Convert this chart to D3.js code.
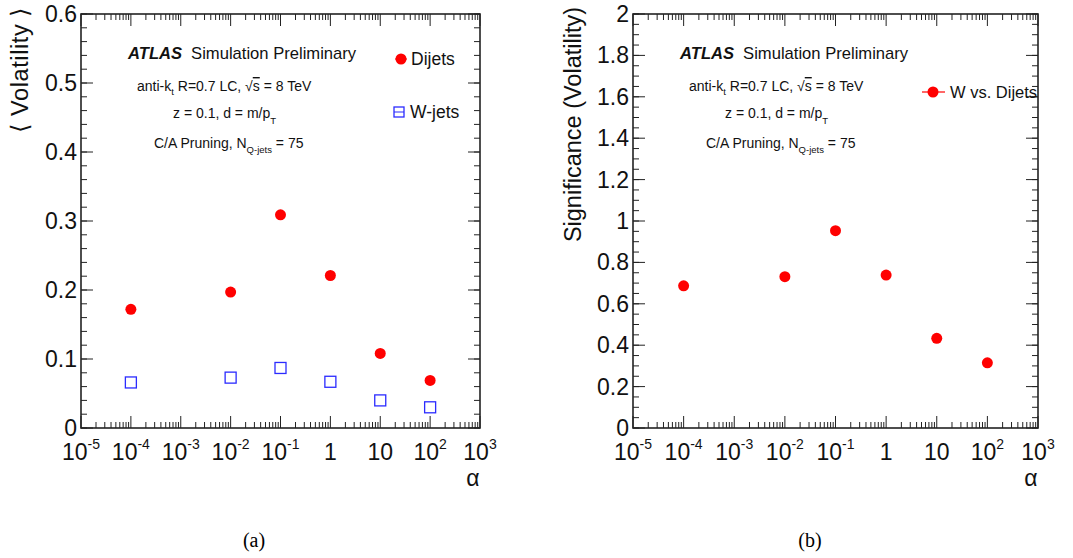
<!DOCTYPE html>
<html>
<head>
<meta charset="utf-8">
<script src="https://cdn.jsdelivr.net/npm/d3@7"></script>
<style>
  html, body { margin: 0; padding: 0; background: #fff; }
  svg { display: block; font-family: "Liberation Sans", Arial, Helvetica, sans-serif; }
</style>
</head>
<body>
<svg id="chart" width="1073" height="558"></svg>
<script>
// ---------------- data ----------------
const alphas = [1e-4, 1e-2, 1e-1, 1, 10, 100];
const dijetsVolatility = [0.172, 0.197, 0.309, 0.221, 0.108, 0.069];
const wjetsVolatility = [0.066, 0.073, 0.087, 0.067, 0.040, 0.030];
const significance = [0.687, 0.731, 0.953, 0.739, 0.433, 0.315];

const xDecades = [-5, -4, -3, -2, -1, 0, 1, 2, 3];
const xTickLabels = [["10", "-5"], ["10", "-4"], ["10", "-3"], ["10", "-2"], ["10", "-1"], ["1", ""], ["10", ""], ["10", "2"], ["10", "3"]];
const leftYTicks = [0, 0.1, 0.2, 0.3, 0.4, 0.5, 0.6];
const leftYTickLabels = ["0", "0.1", "0.2", "0.3", "0.4", "0.5", "0.6"];
const rightYTicks = [0, 0.2, 0.4, 0.6, 0.8, 1.0, 1.2, 1.4, 1.6, 1.8, 2.0];
const rightYTickLabels = ["0", "0.2", "0.4", "0.6", "0.8", "1", "1.2", "1.4", "1.6", "1.8", "2"];
const seriesNames = ["Dijets", "W-jets", "W vs. Dijets"];

// ---------------- drawing ----------------
const svg = d3.select("#chart");
const RED = "#ff0000", BLUE = "#2b2bff", AX = "#222";

function panel(cfg) {
  const x = d3.scaleLog().domain([1e-5, 1e3]).range([cfg.x0, cfg.x1]);
  const y = d3.scaleLinear().domain(cfg.yDomain).range([cfg.y0, cfg.y1]);
  const g = svg.append("g");

  // minor + major x ticks (bottom & top)
  const minors = [];
  for (let e = -5; e < 3; e++) for (let m = 2; m <= 9; m++) minors.push(m * Math.pow(10, e));
  const majors = xDecades.map(e => Math.pow(10, e));
  [[cfg.y0, -1], [cfg.y1, 1]].forEach(([yy, dir]) => {
    g.selectAll(null).data(minors).enter().append("line")
      .attr("x1", d => x(d)).attr("x2", d => x(d))
      .attr("y1", yy).attr("y2", yy + dir * 6)
      .attr("stroke", AX).attr("stroke-width", 1);
    g.selectAll(null).data(majors).enter().append("line")
      .attr("x1", d => x(d)).attr("x2", d => x(d))
      .attr("y1", yy).attr("y2", yy + dir * 12)
      .attr("stroke", AX).attr("stroke-width", 1);
  });

  // y ticks (left & right)
  const [ya, yb] = cfg.yDomain;
  const yMinor = d3.range(ya, yb + 1e-9, cfg.yMinorStep);
  [[cfg.x0, 1], [cfg.x1, -1]].forEach(([xx, dir]) => {
    g.selectAll(null).data(yMinor).enter().append("line")
      .attr("x1", xx).attr("x2", xx + dir * 6)
      .attr("y1", d => y(d)).attr("y2", d => y(d))
      .attr("stroke", AX).attr("stroke-width", 1);
    g.selectAll(null).data(cfg.yTicks).enter().append("line")
      .attr("x1", xx).attr("x2", xx + dir * 12)
      .attr("y1", d => y(d)).attr("y2", d => y(d))
      .attr("stroke", AX).attr("stroke-width", 1);
  });

  // frame
  g.append("rect").attr("x", cfg.x0).attr("y", cfg.y1)
    .attr("width", cfg.x1 - cfg.x0).attr("height", cfg.y0 - cfg.y1)
    .attr("fill", "none").attr("stroke", AX).attr("stroke-width", 1.6);

  // y tick labels
  g.selectAll(null).data(cfg.yTicks).enter().append("text")
    .attr("x", cfg.x0 - 4).attr("y", d => y(d) + 8)
    .attr("text-anchor", "end").attr("font-size", 23).attr("fill", "#111")
    .text((d, i) => cfg.yTickLabels[i]);

  // x tick labels
  const xl = g.selectAll(null).data(xDecades).enter().append("text")
    .attr("x", d => x(Math.pow(10, d)))
    .attr("y", cfg.y0 + 32)
    .attr("text-anchor", "middle").attr("font-size", 23).attr("fill", "#111");
  xl.append("tspan").text((d, i) => xTickLabels[i][0]);
  xl.append("tspan").attr("font-size", 14).attr("dy", -11).text((d, i) => xTickLabels[i][1]);

  // x title
  g.append("text").attr("x", cfg.x1 - 7).attr("y", cfg.y0 + 58)
    .attr("text-anchor", "middle").attr("font-size", 23).attr("fill", "#111").text("α");

  // y title
  g.append("text")
    .attr("transform", `translate(${cfg.yTitleX},${cfg.y1 - 7}) rotate(-90)`)
    .attr("text-anchor", "end").attr("font-size", 23.5).attr("fill", "#111")
    .attr("letter-spacing", cfg.yTitleSpacing)
    .text(cfg.yTitle);

  // annotations
  const ax = cfg.x0;
  const t1 = g.append("text").attr("x", ax + 47).attr("y", 59).attr("font-size", 16.6).attr("fill", "#111");
  t1.append("tspan").attr("font-weight", "bold").attr("font-style", "italic").text("ATLAS");
  t1.append("tspan").attr("dx", 9).text("Simulation Preliminary");

  const t2 = g.append("text").attr("x", ax + 56).attr("y", 91).attr("font-size", 14).attr("fill", "#111");
  t2.append("tspan").text("anti-k");
  t2.append("tspan").attr("font-size", 9.5).attr("dy", 4).text("t");
  t2.append("tspan").attr("dy", -4).text(" R=0.7 LC, √");
  t2.append("tspan").style("text-decoration", "overline").text("s");
  t2.append("tspan").text(" = 8 TeV");

  const t3 = g.append("text").attr("x", ax + 92).attr("y", 118).attr("font-size", 14).attr("fill", "#111");
  t3.append("tspan").text("z = 0.1, d = m/p");
  t3.append("tspan").attr("font-size", 9.5).attr("dy", 6).text("T");

  const t4 = g.append("text").attr("x", ax + 73).attr("y", 148).attr("font-size", 14).attr("fill", "#111");
  t4.append("tspan").text("C/A Pruning, N");
  t4.append("tspan").attr("font-size", 9.5).attr("dy", 5).text("Q-jets");
  t4.append("tspan").attr("dy", -5).text(" = 75");

  return { g, x, y };
}

// ----- panel (a)
const A = panel({
  x0: 81, x1: 480, y0: 428, y1: 14,
  yDomain: [0, 0.6], yTicks: leftYTicks, yTickLabels: leftYTickLabels, yMinorStep: 0.02,
  yTitle: "⟨ Volatility ⟩", yTitleX: 28, yTitleSpacing: 0.6
});
A.g.selectAll(null).data(alphas).enter().append("circle")
  .attr("cx", d => A.x(d)).attr("cy", (d, i) => A.y(dijetsVolatility[i]))
  .attr("r", 5.5).attr("fill", RED);
A.g.selectAll(null).data(alphas).enter().append("rect")
  .attr("x", d => A.x(d) - 5.5).attr("y", (d, i) => A.y(wjetsVolatility[i]) - 5.5)
  .attr("width", 11).attr("height", 11)
  .attr("fill", "none").attr("stroke", BLUE).attr("stroke-width", 1.3);

// legend (a)
A.g.append("line").attr("x1", 395).attr("x2", 407).attr("y1", 59).attr("y2", 59).attr("stroke", RED).attr("stroke-width", 1);
A.g.append("circle").attr("cx", 401).attr("cy", 59).attr("r", 5.5).attr("fill", RED);
A.g.append("text").attr("x", 411).attr("y", 65).attr("font-size", 17.5).attr("fill", "#111").text(seriesNames[0]);
A.g.append("rect").attr("x", 394).attr("y", 107).attr("width", 10).attr("height", 10)
  .attr("fill", "none").attr("stroke", BLUE).attr("stroke-width", 1.3);
A.g.append("line").attr("x1", 394).attr("x2", 404).attr("y1", 112).attr("y2", 112).attr("stroke", BLUE).attr("stroke-width", 1);
A.g.append("text").attr("x", 410).attr("y", 118).attr("font-size", 17.5).attr("fill", "#111").text(seriesNames[1]);

// ----- panel (b)
const B = panel({
  x0: 633, x1: 1038, y0: 428, y1: 14,
  yDomain: [0, 2], yTicks: rightYTicks, yTickLabels: rightYTickLabels, yMinorStep: 0.05,
  yTitle: "Significance (Volatility)", yTitleX: 581, yTitleSpacing: 0
});
B.g.selectAll(null).data(alphas).enter().append("circle")
  .attr("cx", d => B.x(d)).attr("cy", (d, i) => B.y(significance[i]))
  .attr("r", 5.5).attr("fill", RED);

// legend (b)
B.g.append("line").attr("x1", 922).attr("x2", 945).attr("y1", 92).attr("y2", 92).attr("stroke", RED).attr("stroke-width", 1.2);
B.g.append("circle").attr("cx", 933).attr("cy", 92).attr("r", 5.5).attr("fill", RED);
B.g.append("text").attr("x", 950).attr("y", 98).attr("font-size", 16.5).attr("fill", "#111").text(seriesNames[2]);

// captions
svg.append("text").attr("x", 254).attr("y", 547).attr("text-anchor", "middle")
  .attr("font-family", "'Liberation Serif', 'Times New Roman', serif").attr("font-size", 20).text("(a)");
svg.append("text").attr("x", 810).attr("y", 547).attr("text-anchor", "middle")
  .attr("font-family", "'Liberation Serif', 'Times New Roman', serif").attr("font-size", 20).text("(b)");
</script>
</body>
</html>
